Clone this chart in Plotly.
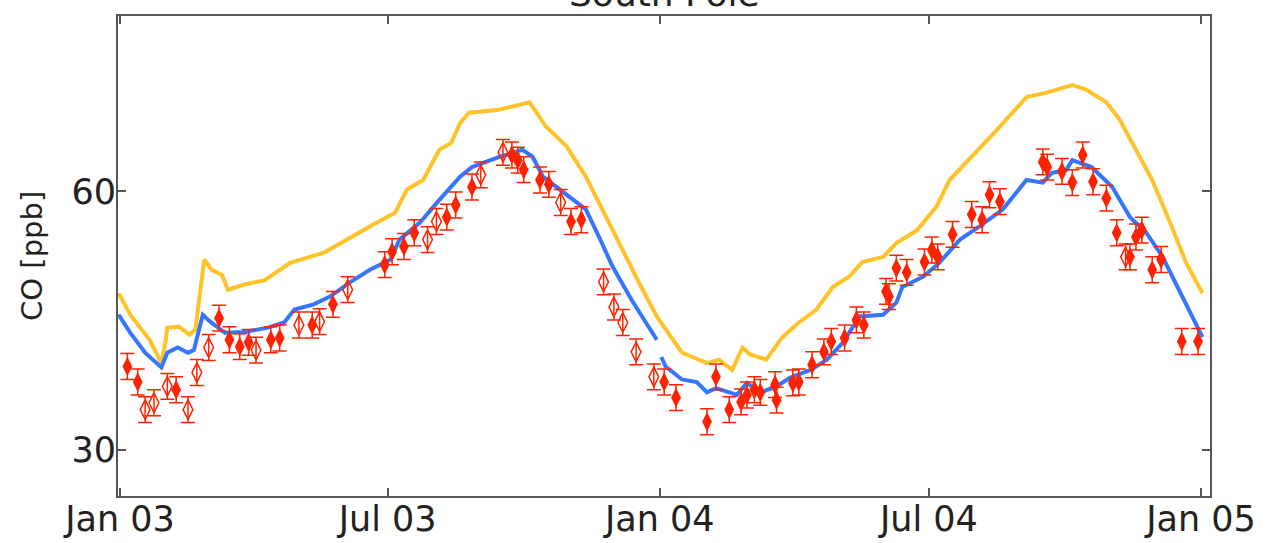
import plotly.graph_objects as go

# Model 1 (yellow)
model1_dates = ["2002-12-31","2003-01-08","2003-01-21","2003-01-29","2003-02-01","2003-02-02","2003-02-10",
    "2003-02-17","2003-02-21","2003-02-27","2003-03-04","2003-03-11","2003-03-15","2003-03-26","2003-04-09",
    "2003-04-26","2003-05-19","2003-06-11","2003-06-25","2003-07-06","2003-07-14","2003-07-25","2003-08-05",
    "2003-08-13","2003-08-19","2003-08-25","2003-09-13","2003-09-28","2003-10-05","2003-10-16","2003-10-30",
    "2003-11-12","2003-11-30","2003-12-18","2003-12-30","2004-01-07","2004-01-16","2004-01-23","2004-02-02",
    "2004-02-10","2004-02-19","2004-02-26","2004-03-02","2004-03-13","2004-03-24","2004-04-04","2004-04-16",
    "2004-04-27","2004-05-08","2004-05-17","2004-05-31","2004-06-09","2004-06-23","2004-06-25","2004-07-06",
    "2004-07-15","2004-07-28","2004-08-16","2004-09-05","2004-09-18","2004-10-06","2004-10-15","2004-10-29",
    "2004-11-07","2004-11-18","2004-11-29","2004-12-11","2004-12-22","2005-01-02"]
model1_co = [48.2,45.7,42.8,40.1,42.8,44.2,44.3,43.4,44.0,52.1,50.9,50.3,48.6,49.2,49.7,
    51.7,52.9,55.2,56.5,57.5,60.2,61.3,64.8,65.6,67.9,69.1,69.4,70.0,70.3,67.5,65.2,
    61.7,55.5,49.4,45.5,43.6,41.3,40.8,40.1,40.5,39.3,41.9,41.1,40.5,43.1,44.8,46.3,
    48.9,50.1,51.8,52.4,54.0,55.5,55.9,58.2,61.3,63.6,67.1,70.9,71.4,72.3,71.8,70.3,
    68.3,64.8,61.3,56.4,51.7,48.2]

# Model 2 (blue); None marks the break at the year boundary
model2_dates = ["2002-12-31","2003-01-08","2003-01-18","2003-01-29","2003-02-02","2003-02-09","2003-02-16",
    "2003-02-20","2003-02-26","2003-03-03","2003-03-13","2003-03-26","2003-04-11","2003-04-22","2003-04-29",
    "2003-05-12","2003-05-23","2003-06-06","2003-06-19","2003-07-03","2003-07-09","2003-07-23","2003-08-05",
    "2003-08-19","2003-08-27","2003-09-08","2003-09-15","2003-09-30","2003-10-07","2003-10-14","2003-10-23",
    "2003-11-03","2003-11-12","2003-11-21","2003-11-30","2003-12-13","2003-12-30","2003-12-31","2004-01-02",
    "2004-01-05","2004-01-16","2004-01-26","2004-02-02","2004-02-08","2004-02-17","2004-02-22","2004-02-29",
    "2004-03-09","2004-03-20","2004-03-29","2004-04-12","2004-04-23","2004-05-04","2004-05-15","2004-05-31",
    "2004-06-09","2004-06-13","2004-06-27","2004-07-08","2004-07-22","2004-08-04","2004-08-20","2004-09-05",
    "2004-09-16","2004-09-22","2004-10-02","2004-10-06","2004-10-19","2004-11-02","2004-11-14","2004-11-25",
    "2004-12-06","2004-12-17","2005-01-02"]
model2_co = [45.7,43.6,41.3,39.6,41.3,41.9,41.3,41.6,45.7,44.9,43.6,43.7,44.2,44.8,46.3,
    46.9,47.8,49.5,50.9,52.1,54.4,56.4,59.0,61.7,62.8,63.6,64.0,64.8,64.0,61.7,60.5,
    59.0,57.9,54.7,51.3,47.4,42.8,None,40.8,39.7,38.2,37.9,36.7,37.2,36.7,36.4,37.8,
    36.7,37.4,38.4,39.3,40.5,42.5,45.5,45.7,47.1,48.9,50.1,51.7,54.4,55.9,57.9,61.3,
    61.0,62.1,62.5,63.6,62.8,60.5,57.0,55.2,52.4,48.6,43.1]

# Observations, filled markers
obs_dates = ["2003-01-06","2003-01-13","2003-02-08","2003-03-09","2003-03-16","2003-03-23","2003-03-29",
    "2003-04-13","2003-04-19","2003-05-11","2003-05-25","2003-06-29","2003-07-04","2003-07-12","2003-07-19",
    "2003-08-10","2003-08-16","2003-08-27","2003-09-23","2003-09-27","2003-10-01","2003-10-12","2003-10-18",
    "2003-11-02","2003-11-09","2004-01-04","2004-01-12","2004-02-02","2004-02-08","2004-02-17","2004-02-25",
    "2004-02-29","2004-03-05","2004-03-09","2004-03-19","2004-03-20","2004-03-31","2004-04-04","2004-04-13",
    "2004-04-21","2004-04-26","2004-05-05","2004-05-13","2004-05-18","2004-06-02","2004-06-04","2004-06-09",
    "2004-06-16","2004-06-28","2004-07-03","2004-07-07","2004-07-17","2004-07-30","2004-08-06","2004-08-11",
    "2004-08-18","2004-09-16","2004-09-19","2004-09-29","2004-10-06","2004-10-13","2004-10-20","2004-10-29",
    "2004-11-05","2004-11-14","2004-11-18","2004-11-22","2004-11-29","2004-12-05","2004-12-19","2004-12-30"]
obs_co = [39.7,37.9,37.0,45.3,42.8,42.0,42.5,42.8,43.0,44.5,46.9,51.5,53.0,53.6,55.2,
    57.0,58.4,60.5,64.2,63.6,62.5,61.3,60.8,56.5,56.7,37.9,36.1,33.3,38.5,34.7,35.6,
    36.4,37.0,36.7,37.6,35.8,37.8,37.9,39.9,41.4,42.6,43.0,45.1,44.5,48.4,47.8,51.1,
    50.6,51.8,53.2,52.4,55.0,57.3,56.7,59.6,58.8,63.4,62.8,62.3,61.0,64.2,61.1,59.2,
    55.2,52.4,54.7,55.5,50.9,52.1,42.6,42.6]

# Observations, open markers
obs_open_dates = ["2003-01-18","2003-01-24","2003-02-02","2003-02-16","2003-02-22","2003-03-02","2003-04-03",
    "2003-05-02","2003-05-16","2003-06-04","2003-07-28","2003-08-03","2003-09-02","2003-09-17","2003-10-26",
    "2003-11-24","2003-12-01","2003-12-07","2003-12-16","2003-12-28","2004-11-11"]
obs_open_co = [34.7,35.5,37.4,34.7,39.0,41.9,41.6,44.5,44.9,48.6,54.4,56.5,61.9,64.5,58.7,
    49.5,46.6,44.8,41.4,38.5,52.4]

obs_err = 1.5

tick_vals = ["2003-01-01", "2003-07-01", "2004-01-01", "2004-07-01", "2005-01-01"]
tick_text = ["Jan 03", "Jul 03", "Jan 04", "Jul 04", "Jan 05"]
y_ticks = [30, 60]

RED = "#ff2200"
TXT = "#222222"
fig = go.Figure()
fig.add_trace(go.Scatter(x=model1_dates, y=model1_co, mode="lines",
                         line=dict(color="#ffc229", width=4), showlegend=False))
fig.add_trace(go.Scatter(x=model2_dates, y=model2_co, mode="lines", connectgaps=False,
                         line=dict(color="#3676ff", width=4), showlegend=False))
fig.add_trace(go.Scatter(x=obs_open_dates, y=obs_open_co, mode="markers",
                         marker=dict(symbol="diamond-tall-open", size=14, color=RED, line=dict(width=1.5, color=RED)),
                         error_y=dict(type="constant", value=obs_err, color=RED, thickness=1.5, width=7),
                         showlegend=False))
fig.add_trace(go.Scatter(x=obs_dates, y=obs_co, mode="markers",
                         marker=dict(symbol="diamond-tall", size=14, color=RED, line=dict(width=0)),
                         error_y=dict(type="constant", value=obs_err, color=RED, thickness=1.5, width=7),
                         showlegend=False))

axis_common = dict(showline=True, linecolor="#555555", linewidth=2, mirror="ticks",
                   ticks="inside", ticklen=8, tickwidth=1.5, tickcolor="#555555",
                   showgrid=False, zeroline=False, automargin=False,
                   tickfont=dict(family="DejaVu Sans", size=35, color=TXT))
fig.update_xaxes(range=["2002-12-30 16:00", "2005-01-07 02:00"], tickvals=tick_vals, ticktext=tick_text,
                 ticklabelstandoff=-9, **axis_common)
fig.update_yaxes(range=[24.7, 80.3], tickvals=y_ticks, ticktext=[str(v) for v in y_ticks],
                 ticklabelstandoff=-7, **axis_common)
fig.add_annotation(text="CO [ppb]", xref="paper", yref="paper", x=-0.0788, y=0.5,
                   xanchor="center", yanchor="middle", textangle=-90, showarrow=False,
                   font=dict(family="DejaVu Sans", size=29, color=TXT))
fig.add_annotation(text="South Pole", xref="paper", yref="paper", x=0.5, y=1.0, yshift=0,
                   xanchor="center", yanchor="bottom", showarrow=False,
                   font=dict(family="DejaVu Sans", size=36, color=TXT))
fig.update_layout(width=1272, height=543, margin=dict(l=118, r=62, t=16, b=47),
                  paper_bgcolor="white", plot_bgcolor="white")
fig.write_html("out.html")
